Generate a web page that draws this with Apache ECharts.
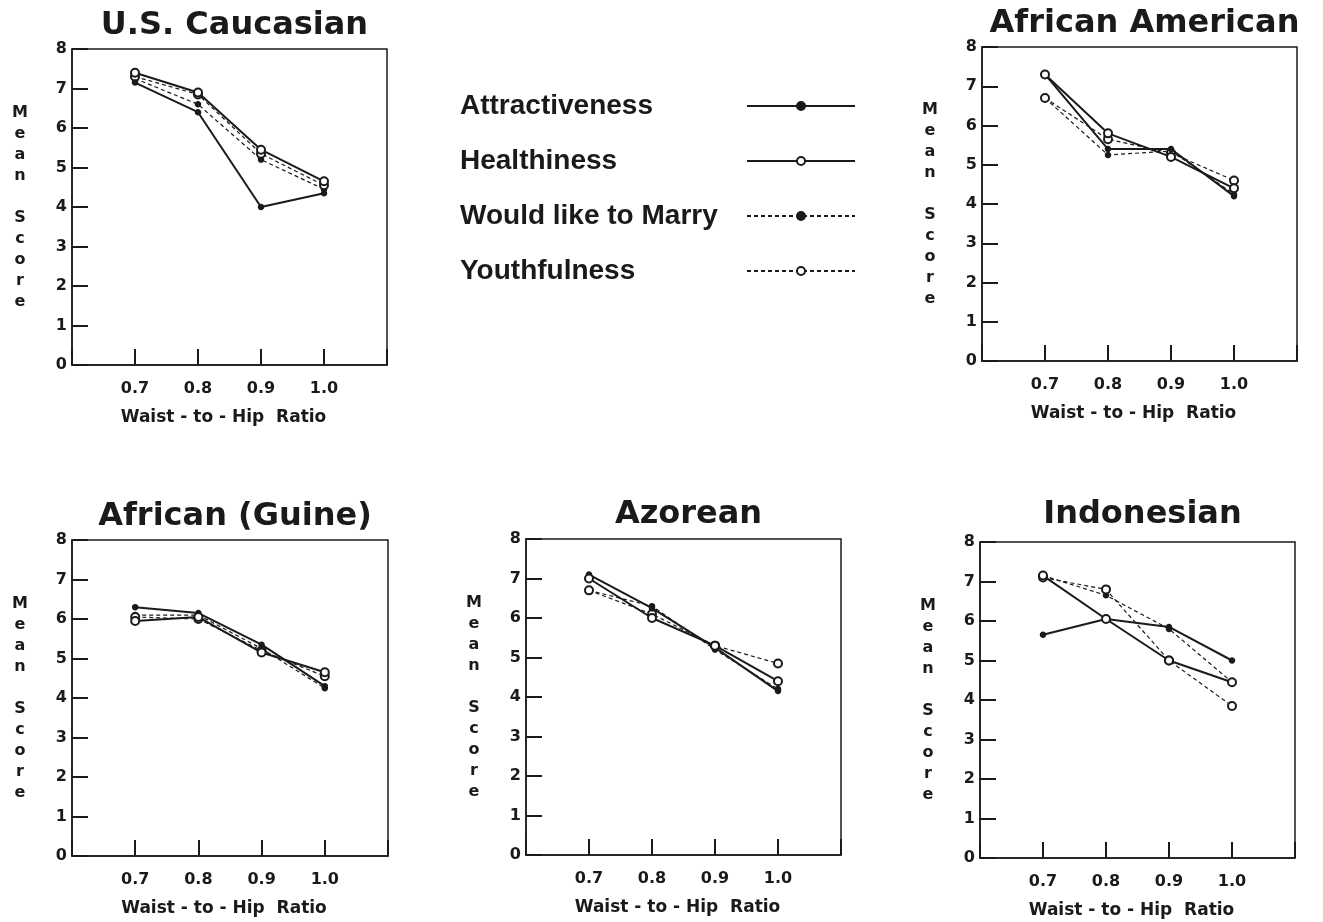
<!DOCTYPE html>
<html>
<head>
<meta charset="utf-8">
<style>
  html, body { margin: 0; padding: 0; background: #fff; }
  #chart { width: 1323px; height: 922px; }
</style>
<script src="https://cdn.jsdelivr.net/npm/echarts@6/dist/echarts.min.js"></script>
</head>
<body>
<div id="chart"></div>
<script>
// x axis: waist-to-hip ratio
const ratios = [0.7, 0.8, 0.9, 1.0]
const xTickLabels = ['0.7', '0.8', '0.9', '1.0']

const measures = ['Attractiveness', 'Healthiness', 'Would like to Marry', 'Youthfulness']
const groups = ['U.S. Caucasian', 'African American', 'African (Guine)', 'Azorean', 'Indonesian']

// mean scores per group, rows in the order of measures
const usCaucasian = [
  [7.15, 6.4, 4.0, 4.35],
  [7.4, 6.9, 5.45, 4.65],
  [7.25, 6.6, 5.2, 4.45],
  [7.3, 6.85, 5.35, 4.55]
]
const africanAmerican = [
  [7.3, 5.4, 5.4, 4.2],
  [7.3, 5.8, 5.2, 4.4],
  [6.7, 5.25, 5.35, 4.25],
  [6.7, 5.65, 5.3, 4.6]
]
const africanGuine = [
  [6.3, 6.15, 5.35, 4.3],
  [5.95, 6.05, 5.15, 4.65],
  [6.1, 6.1, 5.25, 4.25],
  [6.05, 6.0, 5.2, 4.55]
]
const azorean = [
  [7.1, 6.25, 5.25, 4.15],
  [7.0, 6.0, 5.3, 4.4],
  [6.7, 6.3, 5.2, 4.2],
  [6.7, 6.1, 5.3, 4.85]
]
const indonesian = [
  [5.65, 6.05, 5.85, 5.0],
  [7.15, 6.05, 5.0, 4.45],
  [7.15, 6.65, 5.8, 4.45],
  [7.1, 6.8, 5.0, 3.85]
]
const groupScores = [usCaucasian, africanAmerican, africanGuine, azorean, indonesian]

// panel boxes in pixels
const panels = [
  { left: 72, top: 49, width: 315, height: 316, titleTop: 5 },
  { left: 982, top: 47, width: 315, height: 314, titleTop: 3 },
  { left: 72, top: 540, width: 316, height: 316, titleTop: 496 },
  { left: 526, top: 539, width: 315, height: 316, titleTop: 494 },
  { left: 980, top: 542, width: 315, height: 316, titleTop: 494 }
]

const ink = '#1a1a1a'
const lineStyles = [
  { symbol: 'circle', symbolSize: 5, type: 'solid', width: 2 },
  { symbol: 'emptyCircle', symbolSize: 8, type: 'solid', width: 2 },
  { symbol: 'circle', symbolSize: 5, type: [4, 3], width: 1.2 },
  { symbol: 'emptyCircle', symbolSize: 8, type: [4, 3], width: 1.2 }
]

const chart = echarts.init(document.getElementById('chart'))

const option = {
  animation: false,
  backgroundColor: '#fff',
  title: panels.map((p, i) => ({
    text: groups[i],
    left: p.left + p.width / 2,
    top: p.titleTop,
    textAlign: 'center',
    textStyle: { fontFamily: 'DejaVu Sans', fontWeight: 'bold', fontSize: 32, color: ink }
  })),
  legend: {
    orient: 'vertical',
    left: 455,
    top: 87,
    align: 'right',
    itemGap: 27,
    itemWidth: 108,
    itemHeight: 10,
    data: measures,
    formatter: '{a|{name}}',
    textStyle: {
      rich: {
        a: {
          width: 282,
          align: 'left',
          fontFamily: 'Liberation Sans',
          fontWeight: 'bold',
          fontSize: 28,
          color: ink
        }
      }
    }
  },
  grid: panels.map(p => ({
    left: p.left, top: p.top, width: p.width, height: p.height,
    show: true, borderColor: ink, borderWidth: 1.5, containLabel: false
  })),
  xAxis: panels.map((p, i) => ({
    type: 'value',
    gridIndex: i,
    min: 0.6,
    max: 1.1,
    interval: 0.1,
    name: 'Waist - to - Hip  Ratio',
    nameLocation: 'middle',
    nameGap: 44,
    nameTextStyle: {
      fontFamily: 'DejaVu Sans', fontWeight: 'bold', fontSize: 17, color: ink,
      padding: [0, 12, 0, 0]
    },
    axisLine: { show: true, lineStyle: { color: ink, width: 1.5 } },
    axisTick: { show: true, inside: true, length: 16, lineStyle: { color: ink, width: 2 } },
    splitLine: { show: false },
    axisLabel: {
      margin: 16,
      fontFamily: 'DejaVu Sans', fontWeight: 'bold', fontSize: 16, color: ink,
      formatter: v => {
        const k = ratios.findIndex(r => Math.abs(r - v) < 1e-6)
        return k >= 0 ? xTickLabels[k] : ''
      }
    }
  })),
  yAxis: panels.map((p, i) => ({
    type: 'value',
    gridIndex: i,
    min: 0,
    max: 8,
    interval: 1,
    name: 'M\ne\na\nn\n\nS\nc\no\nr\ne',
    nameLocation: 'middle',
    nameRotate: 0,
    nameGap: 52,
    nameTextStyle: {
      fontFamily: 'DejaVu Sans', fontWeight: 'bold', fontSize: 16, lineHeight: 21,
      color: ink, align: 'center', padding: [0, 0, 26, 0]
    },
    axisLine: { show: true, lineStyle: { color: ink, width: 1.5 } },
    axisTick: { show: true, inside: true, length: 16, lineStyle: { color: ink, width: 2 } },
    splitLine: { show: false },
    axisLabel: {
      margin: 5,
      fontFamily: 'DejaVu Sans', fontWeight: 'bold', fontSize: 16, color: ink
    }
  })),
  series: []
}

groupScores.forEach((scores, g) => {
  scores.forEach((values, m) => {
    const s = lineStyles[m]
    option.series.push({
      name: measures[m],
      type: 'line',
      xAxisIndex: g,
      yAxisIndex: g,
      data: values.map((v, k) => [ratios[k], v]),
      symbol: s.symbol,
      symbolSize: s.symbolSize,
      lineStyle: { color: ink, width: s.width, type: s.type },
      itemStyle: { color: ink, borderColor: ink, borderWidth: 1.5 },
      emphasis: { disabled: true },
      z: m < 2 ? 3 : 2
    })
  })
})

chart.setOption(option)

window.addEventListener('resize', () => chart.resize())
</script>
</body>
</html>
